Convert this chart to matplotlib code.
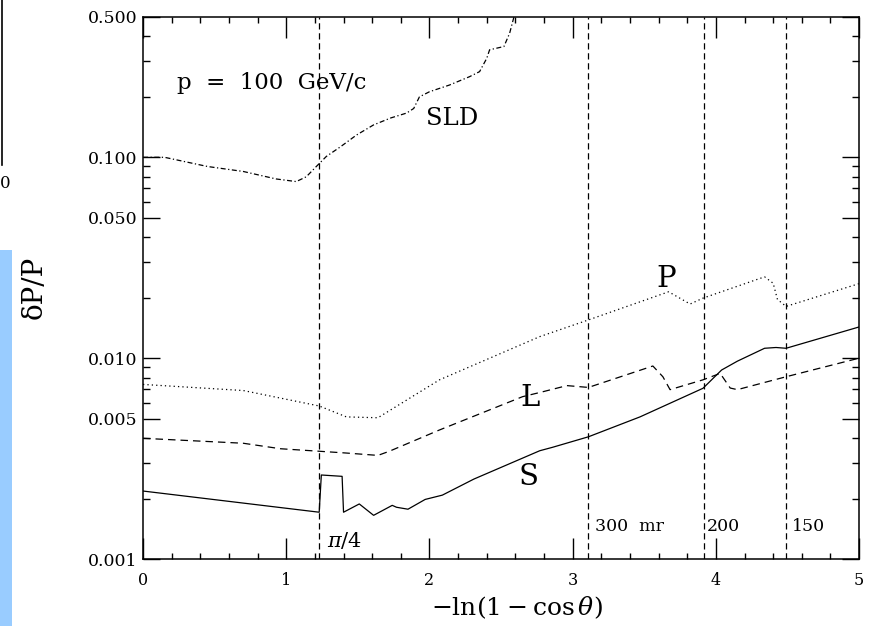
import matplotlib
matplotlib.use('Agg')
import matplotlib.pyplot as plt
from matplotlib.patches import Rectangle
from matplotlib.lines import Line2D
import numpy as np

plt.rcParams['font.family'] = 'DejaVu Serif'
plt.rcParams['mathtext.fontset'] = 'dejavuserif'

# curves: x = -ln(1-cos theta), y = dP/P
S_x = [0, 1.23, 1.245, 1.39, 1.40, 1.51, 1.61, 1.74, 1.77, 1.85, 1.97, 2.09, 2.31, 2.77,
       2.86, 3.11, 3.47, 3.91, 4.04, 4.15, 4.34, 4.42, 4.49, 5.0]
S_y = [0.00218, 0.00171, 0.00262, 0.00258, 0.00171, 0.00188, 0.00165, 0.00185, 0.00181,
       0.00177, 0.00198, 0.00208, 0.0025, 0.00346, 0.0036, 0.00406, 0.0051, 0.00708,
       0.00873, 0.00966, 0.0112, 0.0113, 0.0112, 0.0143]

L_x = [0, 0.70, 0.96, 1.23, 1.42, 1.64, 1.72, 2.07, 2.65, 2.79, 2.96, 3.11, 3.56, 3.63,
       3.68, 3.91, 4.03, 4.10, 4.15, 4.49, 5.0]
L_y = [0.00399, 0.00377, 0.00354, 0.00344, 0.00337, 0.00328, 0.00344, 0.00439, 0.00643,
       0.0068, 0.0073, 0.00715, 0.00914, 0.00808, 0.00697, 0.0078, 0.0084, 0.0071,
       0.00697, 0.00808, 0.0100]

P_x = [0, 0.70, 1.23, 1.42, 1.64, 2.07, 2.77, 3.11, 3.67, 3.82, 3.91, 4.34, 4.40, 4.43,
       4.49, 5.0]
P_y = [0.0074, 0.0069, 0.00578, 0.0051, 0.00505, 0.0078, 0.0128, 0.0155, 0.0214, 0.0186,
       0.0199, 0.0254, 0.0236, 0.0196, 0.0181, 0.0235]

SLD_x = [0, 0.15, 0.45, 0.70, 0.93, 1.07, 1.14, 1.21, 1.28, 1.38, 1.49, 1.61, 1.73, 1.84,
         1.89, 1.93, 2.0, 2.14, 2.28, 2.35, 2.40, 2.42, 2.52, 2.56, 2.59]
SLD_y = [0.100, 0.100, 0.090, 0.085, 0.078, 0.0757, 0.080, 0.090, 0.101, 0.113, 0.129,
         0.145, 0.157, 0.166, 0.175, 0.20, 0.212, 0.229, 0.252, 0.267, 0.311, 0.343,
         0.356, 0.415, 0.5]

# angle cuts: pi/4, 300, 200, 150 mr
cut_x = [1.228, 3.109, 3.915, 4.489]
cut_labels = [r'$\pi/4$', '300  mr', '200', '150']

y_ticks = [0.001, 0.005, 0.010, 0.050, 0.100, 0.500]
y_ticklabels = ['0.001', '0.005', '0.010', '0.050', '0.100', '0.500']
y_minor = [0.002, 0.003, 0.004, 0.006, 0.007, 0.008, 0.009,
           0.02, 0.03, 0.04, 0.06, 0.07, 0.08, 0.09, 0.2, 0.3, 0.4]

fig = plt.figure(figsize=(8.69, 6.26), dpi=100)
ax = fig.add_axes([0.1646, 0.107, 0.824, 0.866])
ax.set_yscale('log')
ax.set_xlim(0, 5)
ax.set_ylim(0.001, 0.5)

lw = 0.9
ax.plot(S_x, S_y, color='black', lw=lw, ls='-')
ax.plot(L_x, L_y, color='black', lw=lw, ls=(0, (6, 4)))
ax.plot(P_x, P_y, color='black', lw=lw, ls=(0, (1, 2.5)))
ax.plot(SLD_x, SLD_y, color='black', lw=lw, ls=(0, (4, 2, 1, 2)))

for xc in cut_x:
    ax.axvline(xc, color='black', lw=0.9, ls=(0, (5, 3)))

ax.text(cut_x[0] + 0.055, 0.00124, cut_labels[0], fontsize=15, va='center')
ax.text(cut_x[1] + 0.05, 0.00145, cut_labels[1], fontsize=12.5, va='center')
ax.text(cut_x[2] + 0.02, 0.00145, cut_labels[2], fontsize=12.5, va='center')
ax.text(cut_x[3] + 0.04, 0.00145, cut_labels[3], fontsize=12.5, va='center')

ax.text(0.235, 0.235, 'p  =  100  GeV/c', fontsize=16.5, va='center')
ax.text(1.976, 0.1565, 'SLD', fontsize=17.5, va='center')
ax.text(3.587, 0.0247, 'P', fontsize=21, va='center')
ax.text(2.633, 0.00634, 'L', fontsize=21, va='center')
ax.text(2.62, 0.00257, 'S', fontsize=21, va='center')

# ticks
ax.set_xticks([0, 1, 2, 3, 4, 5])
ax.set_xticklabels(['0', '1', '2', '3', '4', '5'], fontsize=11.5)
ax.set_xticks(np.arange(0, 5.01, 0.2), minor=True)
ax.set_yticks(y_ticks)
ax.set_yticklabels(y_ticklabels, fontsize=12.5)
ax.set_yticks(y_minor, minor=True)
ax.yaxis.set_minor_formatter(matplotlib.ticker.NullFormatter())
ax.tick_params(axis='x', which='major', direction='in', length=15, width=1.0,
               top=True, pad=9)
ax.tick_params(axis='x', which='minor', direction='in', length=4.5, width=1.0, top=True)
ax.tick_params(axis='y', which='major', direction='in', length=12, width=1.0,
               right=True, pad=4)
ax.tick_params(axis='y', which='minor', direction='in', length=5, width=1.0, right=True)
for sp in ax.spines.values():
    sp.set_linewidth(1.1)

ax.set_xlabel(r'$-\ln(1-\cos\theta)$', fontsize=18, va='center')
ax.xaxis.set_label_coords(0.522, -0.090)
ax.set_ylabel('δP/P', fontsize=20, va='center')
ax.yaxis.set_label_coords(-0.152, 0.502)

# bits of the neighbouring slide left in the crop
fig.add_artist(Rectangle((0, 0), 12 / 869, 376 / 626, transform=fig.transFigure,
                         color='#99ccff', lw=0))
fig.add_artist(Line2D([1.5 / 869, 1.5 / 869], [1, 1 - 165 / 626],
                      transform=fig.transFigure, color='black', lw=1.2))
fig.text(5 / 869, 1 - 183 / 626, '0', fontsize=12, ha='center', va='center')

fig.savefig('out.png', dpi=100)
